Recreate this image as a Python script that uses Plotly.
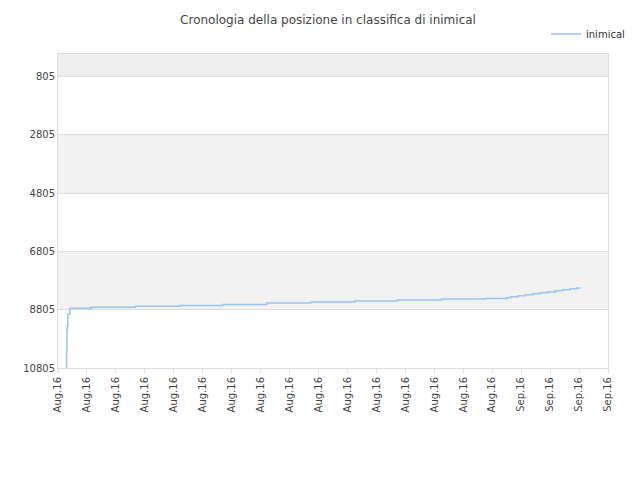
import plotly.graph_objects as go

days = [0.29, 0.30, 0.31, 0.32, 0.34, 0.41, 1.15, 2.68, 4.20, 5.69, 7.21, 8.73, 10.25, 11.73, 13.25,
        14.77, 15.51, 15.64, 15.90, 16.15, 16.41, 16.66, 16.92, 17.18, 17.43, 17.69, 17.92, 18.05]
ranks = [10805, 10157, 9521, 9351, 8965, 8760, 8726, 8692, 8658, 8624, 8578, 8544, 8510, 8476, 8442,
         8420, 8400, 8365, 8330, 8295, 8262, 8228, 8195, 8160, 8125, 8090, 8060, 8060]
tick_vals = list(range(20))
tick_text = ["Aug.16"] * 16 + ["Sep.16"] * 4
y_ticks = [805, 2805, 4805, 6805, 8805, 10805]
y_text = [str(v) for v in y_ticks]

fig = go.Figure()
fig.add_trace(go.Scatter(x=days, y=ranks, mode="lines", line_shape="hv", name="inimical",
                         line=dict(color="#99c4f0", width=1.5)))
bands = [(39, 805, "#eeeeee"), (2805, 4805, "#f2f2f2"), (6805, 8805, "#f2f2f2")]
for a, b, c in bands:
    fig.add_shape(type="rect", xref="paper", yref="y", x0=0, x1=1, y0=a, y1=b,
                  fillcolor=c, line_width=0, layer="below")
fig.update_layout(
    width=640, height=480, paper_bgcolor="white", plot_bgcolor="white",
    margin=dict(l=50, r=40, t=40, b=120),
    title=dict(text="Cronologia della posizione in classifica di inimical", x=0.5, xanchor="center",
               y=0.975, yanchor="middle", font=dict(family="DejaVu Sans", size=12, color="#444")),
    font=dict(family="DejaVu Sans", size=11, color="#444"),
    showlegend=True,
    legend=dict(x=1.04, y=1.11, xanchor="right", yanchor="top", font=dict(size=10, color="#333"),
                bgcolor="rgba(0,0,0,0)"),
    xaxis=dict(range=[0, 19], tickvals=tick_vals, ticktext=tick_text, tickangle=-90, automargin=False,
               showgrid=False, zeroline=False, showline=True, linecolor="#dddddd", mirror=True,
               ticks="outside", ticklen=4, tickcolor="#dddddd", tickfont=dict(size=10)),
    yaxis=dict(range=[10805, 39], tickvals=y_ticks, ticktext=y_text, showgrid=True, gridcolor="#dddddd",
               zeroline=False, showline=True, linecolor="#dddddd", mirror=True, automargin=False,
               tickfont=dict(size=10)),
)
fig.write_html("out.html")
